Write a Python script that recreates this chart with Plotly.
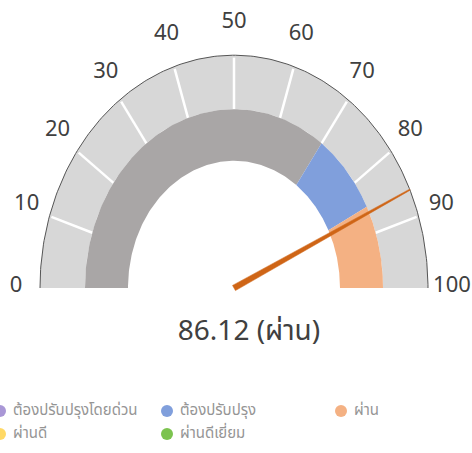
import numpy as np
import plotly.graph_objects as go

# ---------------- data ----------------
SCALE_MIN = 0
SCALE_MAX = 100
TICK_VALUES = [0, 10, 20, 30, 40, 50, 60, 70, 80, 90, 100]
TICK_LABELS = ["0", "10", "20", "30", "40", "50", "60", "70", "80", "90", "100"]
BAND_EDGES = [0, 70, 85, 100]
BAND_COLORS = ["#a9a6a6", "#809fdc", "#f4b183"]
VALUE = 86.12
VALUE_LABEL = "ผ่าน"
LEGEND_LABELS = ["ต้องปรับปรุงโดยด่วน", "ต้องปรับปรุง", "ผ่าน", "ผ่านดี", "ผ่านดีเยี่ยม"]
LEGEND_COLORS = ["#a997d6", "#809fdc", "#f4b183", "#ffd966", "#7cc34f"]

# ---------------- geometry (layout) ----------------
W, H = 472, 453
CX, CY = 234, 288
K = 1.2            # vertical stretch of the dial
R_OUT = 194
R_BAND_OUT = 149
R_BAND_IN = 106
R_LAB_X, R_LAB_Y = 218, 264

FONT = "Noto Sans, Noto Sans Thai, DejaVu Sans, sans-serif"


def ang(v):
    return np.pi * (1 - (v - SCALE_MIN) / (SCALE_MAX - SCALE_MIN))


def pt(v, r, k=K):
    a = ang(v)
    return CX + r * np.cos(a), CY - r * k * np.sin(a)


def ring(v0, v1, r0, r1, n=120):
    vs = np.linspace(v0, v1, n)
    xo, yo = pt(vs, r1)
    xi, yi = pt(vs[::-1], r0)
    return np.concatenate([xo, xi, xo[:1]]), np.concatenate([yo, yi, yo[:1]])


fig = go.Figure()

# outer light-gray scale band
x, y = ring(SCALE_MIN, SCALE_MAX, R_BAND_OUT, R_OUT)
fig.add_trace(go.Scatter(x=x, y=y, fill="toself", fillcolor="#d7d7d7",
                         line=dict(width=0), mode="lines", hoverinfo="skip"))

# white separators
tx, ty = [], []
for v in TICK_VALUES[1:-1]:
    x0, y0 = pt(v, R_BAND_OUT)
    x1, y1 = pt(v, R_OUT - 2)
    tx += [x0, x1, None]
    ty += [y0, y1, None]
fig.add_trace(go.Scatter(x=tx, y=ty, mode="lines", line=dict(color="white", width=2.5),
                         hoverinfo="skip"))

# outer edge line
vs = np.linspace(SCALE_MIN, SCALE_MAX, 200)
ex, ey = pt(vs, R_OUT)
fig.add_trace(go.Scatter(x=ex, y=ey, mode="lines", line=dict(color="#555555", width=1),
                         hoverinfo="skip"))

# inner colored band
for v0, v1, c in zip(BAND_EDGES[:-1], BAND_EDGES[1:], BAND_COLORS):
    x, y = ring(v0, v1, R_BAND_IN, R_BAND_OUT)
    fig.add_trace(go.Scatter(x=x, y=y, fill="toself", fillcolor=c,
                             line=dict(width=0), mode="lines", hoverinfo="skip"))

# needle (tapered)
tipx, tipy = pt(VALUE, R_OUT)
dxn, dyn = tipx - CX, tipy - CY
L = np.hypot(dxn, dyn)
nx, ny = -dyn / L, dxn / L
w0, w1 = 3.0, 0.6
needle_x = [CX + nx * w0, tipx + nx * w1, tipx - nx * w1, CX - nx * w0, CX + nx * w0]
needle_y = [CY + ny * w0, tipy + ny * w1, tipy - ny * w1, CY - ny * w0, CY + ny * w0]
fig.add_trace(go.Scatter(x=needle_x, y=needle_y, fill="toself", fillcolor="#cf6516",
                         line=dict(color="#cf6516", width=0.5), mode="lines", hoverinfo="skip"))

# tick labels
lx, ly = [], []
for v in TICK_VALUES:
    aa = ang(v)
    lx.append(CX + R_LAB_X * np.cos(aa))
    ly.append(CY - 2 - R_LAB_Y * np.sin(aa))
fig.add_trace(go.Scatter(x=lx, y=ly, mode="text", text=TICK_LABELS,
                         textfont=dict(family=FONT, size=22, color="#404040"),
                         textposition="middle center", hoverinfo="skip"))

# value text
fig.add_trace(go.Scatter(x=[CX + 15], y=[333], mode="text",
                         text=[f"{VALUE:.2f} ({VALUE_LABEL})"],
                         textfont=dict(family=FONT, size=28, color="#404040"),
                         textposition="middle center", hoverinfo="skip"))

# legend (3 columns)
COL_X = [0, 167, 341]
ROW_Y = [411, 434]
for i, (lab, col) in enumerate(zip(LEGEND_LABELS, LEGEND_COLORS)):
    r, c = divmod(i, 3)
    fig.add_trace(go.Scatter(x=[COL_X[c]], y=[ROW_Y[r]], mode="markers",
                             marker=dict(color=col, size=12, symbol="circle"),
                             cliponaxis=False, hoverinfo="skip"))
    fig.add_trace(go.Scatter(x=[COL_X[c] + 13], y=[ROW_Y[r]], mode="text",
                             text=[lab], textposition="middle right",
                             textfont=dict(family=FONT, size=15, color="#959595"),
                             cliponaxis=False, hoverinfo="skip"))

fig.update_layout(
    width=W, height=H, margin=dict(l=0, r=0, t=0, b=0),
    paper_bgcolor="white", plot_bgcolor="white", showlegend=False,
    xaxis=dict(range=[0, W], visible=False, fixedrange=True),
    yaxis=dict(range=[H, 0], visible=False, fixedrange=True),
)
fig.write_html("out.html", config={"displayModeBar": False},
               post_script="document.body.style.margin='0';document.body.style.overflow='hidden';")
